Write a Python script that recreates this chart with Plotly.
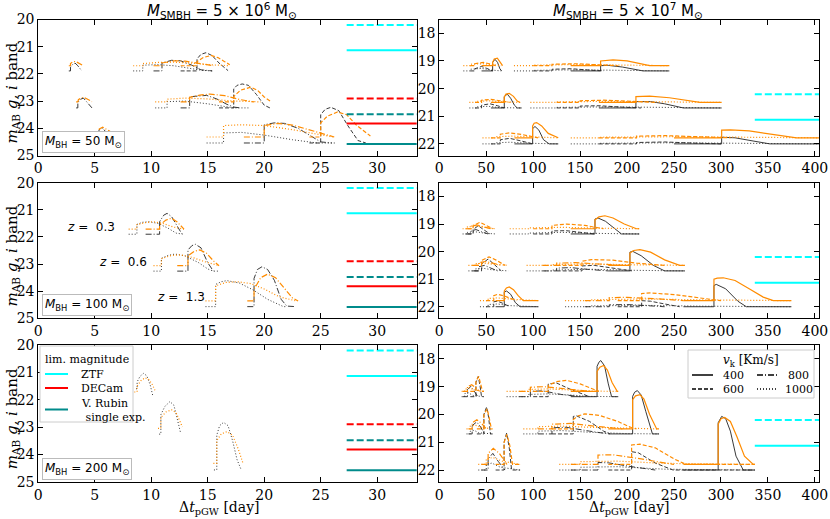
import plotly.graph_objects as go

W, H = 830, 519

# ------------------------------------------------------------------ data
VK_VALUES = [400, 600, 800, 1000]          # kick velocity [km/s]
MBH_VALUES = [50, 100, 200]                # BH mass per row [Msun]
SMBH_EXP = [6, 7]                          # log10 SMBH mass per column
Z_VALUES = [0.3, 0.6, 1.3]

LIM_NAMES = ["ZTF", "DECam", "V. Rubin<br> single exp."]
LIM_SOLID = [21.13, 23.82, 24.58]
LIM_DASHED = [20.20, 22.90, 23.48]
LIM_T_LEFT = [27.3, 34.0]
LIM_T_RIGHT = [336.0, 410.0]

LEFT_XTICKS = [0, 5, 10, 15, 20, 25, 30]
RIGHT_XTICKS = [0, 50, 100, 150, 200, 250, 300, 350, 400]
LEFT_YTICKS = [20, 21, 22, 23, 24, 25]
RIGHT_YTICKS = [18, 19, 20, 21, 22]

# each curve: (band, v_k, t [day], m_AB)
CURVES_L50 = [
    ("g", 800, [2.70, 2.85, 2.85, 3.05, 3.25, 3.50, 3.85], [21.89, 21.89, 21.75, 21.65, 21.60, 21.70, 21.89]),
    ("i", 800, [2.70, 2.85, 2.85, 3.05, 3.30, 3.60, 3.90], [21.70, 21.70, 21.62, 21.56, 21.54, 21.60, 21.68]),
    ("g", 1000, [8.40, 9.25, 9.25, 10.5, 12.0, 13.5, 14.5, 15.4], [21.89, 21.89, 21.68, 21.66, 21.70, 21.80, 21.87, 21.89]),
    ("i", 1000, [8.40, 9.25, 9.25, 10.5, 12.0, 13.5, 15.0, 16.9], [21.70, 21.70, 21.62, 21.58, 21.57, 21.60, 21.66, 21.70]),
    ("g", 800, [10.2, 10.95, 10.95, 11.8, 12.6, 13.6, 14.4, 15.4], [21.89, 21.89, 21.60, 21.50, 21.52, 21.68, 21.85, 21.89]),
    ("i", 800, [10.2, 10.95, 10.95, 12.0, 13.0, 14.2, 15.5], [21.70, 21.70, 21.60, 21.52, 21.53, 21.62, 21.70]),
    ("g", 600, [12.6, 14.05, 14.05, 14.4, 14.85, 15.4, 16.0, 16.8], [21.89, 21.89, 21.45, 21.28, 21.22, 21.33, 21.60, 21.88]),
    ("i", 600, [12.6, 14.05, 14.05, 14.6, 15.3, 15.9, 16.5, 16.95], [21.70, 21.70, 21.55, 21.40, 21.32, 21.40, 21.55, 21.66]),
    ("g", 800, [3.35, 3.50, 3.50, 3.75, 4.00, 4.35, 4.75], [23.25, 23.25, 23.05, 22.93, 22.89, 23.05, 23.25]),
    ("i", 800, [3.35, 3.50, 3.55, 3.80, 4.05, 4.40, 4.75], [23.03, 23.03, 22.95, 22.88, 22.86, 22.93, 23.02]),
    ("g", 1000, [10.35, 11.4, 11.4, 13.0, 15.0, 16.5, 17.3, 18.6], [23.25, 23.25, 23.02, 23.00, 23.10, 23.20, 23.25, 23.25]),
    ("i", 1000, [10.35, 11.4, 11.4, 13.0, 15.0, 17.0, 19.7], [23.03, 23.03, 22.93, 22.89, 22.92, 22.99, 23.03]),
    ("g", 800, [12.6, 13.4, 13.4, 14.2, 14.9, 15.8, 16.7, 17.3, 17.9], [23.25, 23.25, 22.84, 22.80, 22.79, 22.92, 23.12, 23.22, 23.25]),
    ("i", 800, [12.6, 13.4, 13.4, 14.3, 15.2, 16.5, 17.8, 19.1], [23.03, 23.03, 22.86, 22.78, 22.74, 22.80, 22.94, 23.03]),
    ("g", 600, [16.0, 17.3, 17.3, 17.6, 18.05, 18.6, 19.3, 20.0, 20.5], [23.25, 23.25, 22.55, 22.42, 22.37, 22.42, 22.75, 23.15, 23.25]),
    ("i", 600, [16.0, 17.3, 17.3, 17.9, 18.8, 19.4, 20.0, 20.6], [23.03, 23.03, 22.83, 22.60, 22.49, 22.60, 22.85, 23.02]),
    ("g", 800, [5.00, 5.20, 5.20, 5.45, 5.70, 6.10, 6.55], [24.54, 24.54, 24.20, 24.03, 23.99, 24.20, 24.54]),
    ("i", 800, [4.90, 5.20, 5.20, 5.40, 5.70, 6.30, 6.95], [24.32, 24.32, 24.20, 24.02, 23.96, 24.10, 24.32]),
    ("g", 1000, [14.9, 16.4, 16.4, 18.0, 20.0, 22.5, 24.7, 26.3], [24.54, 24.54, 24.17, 24.15, 24.25, 24.42, 24.54, 24.54]),
    ("i", 1000, [14.9, 16.4, 16.4, 18.0, 20.0, 22.5, 24.5, 26.2], [24.32, 24.32, 23.90, 23.87, 23.90, 24.05, 24.20, 24.32]),
    ("g", 800, [18.2, 20.0, 20.0, 20.9, 21.8, 23.0, 24.2, 25.0, 26.0], [24.54, 24.54, 23.87, 23.80, 23.82, 24.00, 24.30, 24.50, 24.54]),
    ("i", 800, [18.2, 20.0, 20.0, 21.2, 22.5, 24.0, 25.3, 26.2], [24.32, 24.32, 23.90, 23.82, 23.88, 24.05, 24.22, 24.32]),
    ("g", 600, [24.0, 25.0, 25.0, 25.4, 25.9, 26.6, 27.4, 28.3, 29.0], [24.54, 24.54, 23.50, 23.30, 23.23, 23.35, 23.90, 24.45, 24.54]),
    ("i", 600, [24.0, 25.0, 25.0, 25.6, 26.5, 27.3, 28.2, 29.4], [24.32, 24.32, 23.80, 23.55, 23.40, 23.50, 23.90, 24.28]),
]

CURVES_L100 = [
    ("g", 1000, [8.0, 8.73, 8.73, 9.2, 9.8, 10.6, 11.5, 12.2, 12.9], [21.90, 21.90, 21.54, 21.46, 21.44, 21.50, 21.68, 21.86, 21.90]),
    ("i", 1000, [8.0, 8.73, 8.73, 9.5, 10.2, 11.0, 12.0, 12.9], [21.71, 21.71, 21.55, 21.47, 21.44, 21.50, 21.64, 21.71]),
    ("g", 800, [9.5, 10.74, 10.74, 11.1, 11.4, 11.8, 12.3, 12.7], [21.90, 21.90, 21.44, 21.20, 21.13, 21.25, 21.60, 21.88]),
    ("i", 800, [9.5, 10.74, 10.74, 11.3, 11.8, 12.3, 12.9], [21.71, 21.71, 21.56, 21.38, 21.31, 21.45, 21.71]),
    ("g", 1000, [10.2, 10.9, 10.9, 11.5, 12.1, 13.0, 14.2, 15.0, 15.5, 16.0], [23.26, 23.26, 22.79, 22.68, 22.63, 22.70, 22.95, 23.18, 23.26, 23.26]),
    ("i", 1000, [10.2, 10.9, 10.9, 11.8, 12.6, 13.6, 14.8, 16.0], [23.06, 23.06, 22.80, 22.68, 22.66, 22.75, 22.92, 23.06]),
    ("g", 800, [12.3, 13.25, 13.25, 13.6, 13.9, 14.4, 15.0, 15.5], [23.26, 23.26, 22.48, 22.32, 22.27, 22.40, 22.95, 23.26]),
    ("i", 800, [12.3, 13.25, 13.25, 13.8, 14.3, 14.9, 15.5, 16.0], [23.06, 23.06, 22.70, 22.53, 22.48, 22.60, 22.88, 23.06]),
    ("g", 1000, [14.8, 15.7, 15.7, 16.2, 16.7, 17.8, 19.0, 20.3, 21.7, 22.0], [24.57, 24.57, 23.75, 23.65, 23.61, 23.70, 23.95, 24.30, 24.57, 24.57]),
    ("i", 1000, [14.8, 15.7, 15.7, 16.6, 17.6, 18.8, 20.0, 21.3, 22.8], [24.36, 24.36, 23.80, 23.68, 23.65, 23.72, 23.92, 24.20, 24.36]),
    ("g", 800, [18.5, 19.1, 19.1, 19.4, 19.8, 20.3, 20.9, 21.5, 22.0, 22.8], [24.57, 24.57, 23.53, 23.20, 23.10, 23.20, 23.60, 24.30, 24.55, 24.57]),
    ("i", 800, [18.5, 19.1, 19.1, 19.7, 20.3, 21.0, 21.8, 22.5, 23.0], [24.36, 24.36, 23.93, 23.50, 23.37, 23.50, 23.90, 24.25, 24.36]),
]

CURVES_L200 = [
    ("g", 1000, [8.65, 8.75, 8.75, 9.0, 9.3, 9.6, 9.9, 10.15], [21.60, 21.60, 21.35, 21.15, 21.04, 21.12, 21.45, 21.88]),
    ("i", 1000, [8.5, 8.75, 8.75, 9.1, 9.45, 9.8, 10.1, 10.35], [21.72, 21.72, 21.50, 21.30, 21.20, 21.27, 21.45, 21.68]),
    ("g", 1000, [10.7, 10.85, 10.85, 11.2, 11.65, 12.0, 12.3, 12.6], [23.26, 23.26, 22.55, 22.25, 22.07, 22.20, 22.70, 23.22]),
    ("i", 1000, [10.6, 10.85, 10.85, 11.3, 11.8, 12.2, 12.5, 12.75], [23.05, 23.05, 22.65, 22.45, 22.37, 22.48, 22.75, 23.00]),
    ("g", 1000, [15.55, 15.8, 15.8, 16.05, 16.4, 16.8, 17.2, 17.6, 17.95], [24.57, 24.57, 23.30, 22.95, 22.83, 22.95, 23.50, 24.20, 24.55]),
    ("i", 1000, [15.5, 15.8, 15.8, 16.2, 16.7, 17.2, 17.7, 18.1], [24.33, 24.33, 23.50, 23.25, 23.17, 23.30, 23.80, 24.30]),
]

CURVES_R50 = [
    ("g", 1000, [25.6, 33, 33, 45, 56, 66], [19.36, 19.36, 19.30, 19.27, 19.33, 19.36]),
    ("i", 1000, [25.6, 33, 33, 47, 58, 66], [19.17, 19.17, 19.12, 19.10, 19.14, 19.17]),
    ("g", 600, [33, 38, 38, 45, 50, 56.8], [19.36, 19.36, 19.28, 19.20, 19.26, 19.36]),
    ("i", 600, [33, 38, 38, 47, 53, 60], [19.17, 19.17, 19.10, 19.05, 19.10, 19.17]),
    ("g", 400, [45, 56.8, 56.8, 59.3, 62, 64.5, 66.4], [19.36, 19.36, 19.05, 18.94, 19.05, 19.28, 19.36]),
    ("i", 400, [45, 56.8, 56.8, 58.5, 61.8, 64.5, 67.4], [19.17, 19.17, 19.05, 18.93, 18.90, 19.02, 19.17]),
    ("g", 1000, [79.5, 100, 100, 150, 200, 245], [19.36, 19.36, 19.34, 19.32, 19.35, 19.36]),
    ("i", 1000, [79.5, 100, 100, 150, 200, 245], [19.17, 19.17, 19.15, 19.13, 19.15, 19.17]),
    ("g", 600, [100, 120, 120, 140, 160, 175], [19.36, 19.36, 19.30, 19.28, 19.33, 19.36]),
    ("i", 600, [100, 120, 120, 145, 170, 190], [19.17, 19.17, 19.12, 19.10, 19.14, 19.17]),
    ("g", 400, [140, 171.8, 171.8, 180, 195, 210, 217, 245], [19.36, 19.36, 19.17, 19.16, 19.22, 19.32, 19.36, 19.36]),
    ("i", 400, [140, 171.8, 171.8, 185, 200, 215, 224, 245], [19.17, 19.17, 19.00, 18.96, 19.00, 19.10, 19.17, 19.17]),
    ("g", 1000, [32, 40, 40, 52, 65, 87.7], [20.70, 20.70, 20.66, 20.64, 20.69, 20.70]),
    ("i", 1000, [32, 40, 40, 54, 68, 87.7], [20.50, 20.50, 20.46, 20.44, 20.48, 20.50]),
    ("g", 600, [38, 45, 45, 54, 62, 69.2], [20.70, 20.70, 20.60, 20.55, 20.62, 20.70]),
    ("i", 600, [38, 45, 45, 55, 65, 75], [20.50, 20.50, 20.42, 20.39, 20.44, 20.50]),
    ("g", 400, [55, 69.2, 69.2, 72.4, 76, 80, 83, 87.7], [20.70, 20.70, 20.29, 20.20, 20.35, 20.60, 20.70, 20.70]),
    ("i", 400, [55, 69.2, 69.2, 71, 74.5, 79, 83, 86], [20.50, 20.50, 20.30, 20.20, 20.17, 20.28, 20.45, 20.50]),
    ("g", 1000, [97, 125, 125, 180, 240, 300.7], [20.70, 20.70, 20.68, 20.66, 20.69, 20.70]),
    ("i", 1000, [97, 125, 125, 180, 240, 300.7], [20.50, 20.50, 20.48, 20.46, 20.48, 20.50]),
    ("g", 600, [125, 150, 150, 170, 195, 215], [20.70, 20.70, 20.63, 20.62, 20.67, 20.70]),
    ("i", 600, [125, 150, 150, 175, 205, 230], [20.50, 20.50, 20.44, 20.42, 20.46, 20.50]),
    ("g", 400, [170, 209.4, 209.4, 225, 240, 255, 260, 300.7], [20.70, 20.70, 20.47, 20.47, 20.55, 20.66, 20.70, 20.70]),
    ("i", 400, [170, 209.4, 209.4, 224, 245, 265, 277.6, 300.7], [20.50, 20.50, 20.29, 20.27, 20.33, 20.44, 20.50, 20.50]),
    ("g", 1000, [46, 60, 60, 75, 100, 126.7], [22.00, 22.00, 21.96, 21.94, 21.98, 22.00]),
    ("i", 1000, [46, 60, 60, 78, 100, 126.7], [21.78, 21.78, 21.74, 21.72, 21.75, 21.78]),
    ("g", 600, [55, 65, 65, 75, 88, 99.4], [22.00, 22.00, 21.85, 21.80, 21.90, 22.00]),
    ("i", 600, [55, 65, 65, 75, 88, 105], [21.78, 21.78, 21.65, 21.60, 21.66, 21.78]),
    ("g", 400, [80, 99.4, 99.4, 101.9, 106, 111, 117, 126.7], [22.00, 22.00, 21.45, 21.37, 21.50, 21.85, 22.00, 22.00]),
    ("i", 400, [80, 99.4, 99.4, 101, 103.7, 109, 116, 125, 126.7], [21.78, 21.78, 21.35, 21.25, 21.23, 21.35, 21.62, 21.78, 21.78]),
    ("g", 1000, [140, 170, 170, 250, 330, 405], [22.00, 22.00, 21.98, 21.96, 21.98, 22.00]),
    ("i", 1000, [140, 170, 170, 250, 330, 405], [21.78, 21.78, 21.76, 21.74, 21.76, 21.78]),
    ("g", 600, [170, 210, 210, 240, 270, 300], [22.00, 22.00, 21.95, 21.93, 21.97, 22.00]),
    ("i", 600, [170, 210, 210, 240, 275, 310], [21.78, 21.78, 21.72, 21.70, 21.74, 21.78]),
    ("g", 400, [250, 300.7, 300.7, 315, 335, 352, 405], [22.00, 22.00, 21.76, 21.78, 21.90, 22.00, 22.00]),
    ("i", 400, [250, 300.7, 300.7, 310, 330, 355, 380.5, 405], [21.78, 21.78, 21.50, 21.49, 21.53, 21.66, 21.78, 21.78]),
]

CURVES_R100 = [
    ("g", 1000, [24.8, 30, 30, 38, 48, 60], [19.36, 19.36, 19.30, 19.28, 19.33, 19.36]),
    ("i", 1000, [24.8, 30, 30, 40, 50, 60], [19.17, 19.17, 19.10, 19.08, 19.13, 19.17]),
    ("g", 800, [28, 34, 34, 39, 45, 52], [19.36, 19.36, 19.25, 19.20, 19.28, 19.36]),
    ("i", 800, [28, 34, 34, 40, 47, 55], [19.17, 19.17, 19.08, 19.03, 19.10, 19.17]),
    ("g", 600, [30, 36, 36, 41.5, 47, 54], [19.36, 19.36, 19.20, 19.06, 19.20, 19.36]),
    ("i", 600, [30, 36, 36, 43.3, 50, 57], [19.17, 19.17, 19.05, 18.94, 19.05, 19.17]),
    ("g", 1000, [75, 95, 95, 130, 170, 213], [19.36, 19.36, 19.33, 19.30, 19.34, 19.36]),
    ("i", 1000, [75, 95, 95, 130, 170, 213], [19.17, 19.17, 19.14, 19.12, 19.15, 19.17]),
    ("g", 600, [100, 120, 120, 135, 150, 165], [19.36, 19.36, 19.25, 19.24, 19.30, 19.36]),
    ("i", 600, [100, 120, 120, 135.6, 155, 175], [19.17, 19.17, 19.05, 19.00, 19.05, 19.17]),
    ("g", 400, [140, 165.8, 165.8, 169, 177, 186, 194, 213], [19.36, 19.36, 18.82, 18.78, 18.90, 19.15, 19.36, 19.36]),
    ("i", 400, [140, 165.8, 165.8, 170, 176.4, 185, 197, 210, 213], [19.17, 19.17, 18.85, 18.74, 18.70, 18.78, 19.00, 19.17, 19.17]),
    ("g", 1000, [31, 38, 38, 46, 56, 73.5], [20.70, 20.70, 20.63, 20.60, 20.66, 20.70]),
    ("i", 1000, [31, 38, 38, 48, 58, 73.5], [20.50, 20.50, 20.44, 20.42, 20.46, 20.50]),
    ("g", 800, [35, 42, 42, 48, 55, 62], [20.70, 20.70, 20.55, 20.50, 20.60, 20.70]),
    ("i", 800, [35, 42, 42, 49, 57, 66], [20.50, 20.50, 20.40, 20.36, 20.42, 20.50]),
    ("g", 600, [38, 45, 45, 52, 58, 66], [20.70, 20.70, 20.45, 20.27, 20.45, 20.70]),
    ("i", 600, [38, 45, 45, 53, 60, 70], [20.50, 20.50, 20.32, 20.19, 20.30, 20.50]),
    ("g", 1000, [93, 120, 120, 160, 210, 261.6], [20.70, 20.70, 20.67, 20.64, 20.68, 20.70]),
    ("i", 1000, [93, 120, 120, 160, 210, 261.6], [20.50, 20.50, 20.47, 20.45, 20.48, 20.50]),
    ("g", 800, [110, 125, 125, 140, 160, 180], [20.70, 20.70, 20.60, 20.58, 20.65, 20.70]),
    ("i", 800, [110, 125, 125, 145, 170, 195], [20.50, 20.50, 20.42, 20.40, 20.45, 20.50]),
    ("g", 600, [125, 152, 152, 165, 185, 205], [20.70, 20.70, 20.52, 20.50, 20.60, 20.70]),
    ("i", 600, [125, 152, 152, 162, 185, 210, 240], [20.50, 20.50, 20.35, 20.29, 20.31, 20.42, 20.50]),
    ("g", 400, [180, 203, 203, 206, 215, 228, 240, 261.6], [20.70, 20.70, 20.02, 19.99, 20.15, 20.50, 20.70, 20.70]),
    ("i", 400, [180, 203, 203, 207, 213.7, 225, 240, 256, 261.6], [20.50, 20.50, 20.05, 19.96, 19.93, 20.02, 20.30, 20.50, 20.50]),
    ("g", 1000, [43.3, 52, 52, 62, 75, 105.4], [22.00, 22.00, 21.92, 21.90, 21.96, 22.00]),
    ("i", 1000, [43.3, 52, 52, 62, 78, 105.4], [21.78, 21.78, 21.70, 21.68, 21.73, 21.78]),
    ("g", 600, [50, 58, 58, 62, 68, 75], [22.00, 22.00, 21.82, 21.80, 21.88, 22.00]),
    ("i", 600, [50, 58, 58, 62, 70, 82], [21.78, 21.78, 21.60, 21.55, 21.62, 21.78]),
    ("g", 400, [60, 69.2, 69.2, 71.7, 76, 81, 86, 105.4], [22.00, 22.00, 21.47, 21.43, 21.55, 21.85, 22.00, 22.00]),
    ("i", 400, [60, 69.2, 69.2, 71.5, 74.5, 79, 84, 89.5, 105.4], [21.78, 21.78, 21.43, 21.32, 21.28, 21.38, 21.60, 21.78, 21.78]),
    ("g", 1000, [134, 160, 160, 220, 280, 375], [22.00, 22.00, 21.97, 21.95, 21.98, 22.00]),
    ("i", 1000, [134, 160, 160, 220, 280, 375], [21.78, 21.78, 21.75, 21.72, 21.75, 21.78]),
    ("g", 800, [155, 181, 181, 200, 220, 240], [22.00, 22.00, 21.93, 21.92, 21.96, 22.00]),
    ("i", 800, [155, 181, 181, 200, 230, 260], [21.78, 21.78, 21.67, 21.66, 21.71, 21.78]),
    ("g", 600, [190, 215.5, 215.5, 225, 240, 256], [22.00, 22.00, 21.78, 21.80, 21.90, 22.00]),
    ("i", 600, [190, 215.5, 215.5, 225, 250, 275, 300], [21.78, 21.78, 21.52, 21.50, 21.56, 21.68, 21.78]),
    ("g", 400, [260, 292.5, 292.5, 295, 305, 318, 327, 375], [22.00, 22.00, 21.23, 21.19, 21.35, 21.80, 22.00, 22.00]),
    ("i", 400, [260, 292.5, 292.5, 296, 302.4, 315, 330, 345, 355.7, 375], [21.78, 21.78, 21.00, 20.96, 20.95, 21.05, 21.35, 21.65, 21.78, 21.78]),
]

CURVES_R200 = [
    ("g", 1000, [23.8, 27, 27, 31, 36, 47.6], [19.36, 19.36, 19.25, 19.22, 19.32, 19.36]),
    ("i", 1000, [23.8, 27, 27, 32, 38, 47.6], [19.17, 19.17, 19.10, 19.05, 19.12, 19.17]),
    ("g", 800, [25, 30, 30, 33.7, 37, 41], [19.36, 19.36, 19.10, 18.99, 19.15, 19.36]),
    ("i", 800, [25, 30, 30, 34.5, 38, 43], [19.17, 19.17, 19.00, 18.93, 19.02, 19.17]),
    ("g", 600, [33, 39, 39, 41.5, 43.5, 45, 47.6], [19.36, 19.36, 18.85, 18.63, 19.00, 19.36, 19.36]),
    ("i", 600, [33, 39, 39, 42, 44, 46, 47.6], [19.17, 19.17, 18.80, 18.63, 18.90, 19.17, 19.17]),
    ("g", 1000, [71.7, 95, 95, 115, 140, 160, 190.6], [19.36, 19.36, 19.28, 19.26, 19.30, 19.35, 19.36]),
    ("i", 1000, [71.7, 95, 95, 115, 140, 165, 190.6], [19.17, 19.17, 19.10, 19.08, 19.12, 19.16, 19.17]),
    ("g", 800, [85, 97, 97, 110, 130, 150], [19.36, 19.36, 19.17, 19.15, 19.28, 19.36]),
    ("i", 800, [85, 97, 97, 112, 135, 160], [19.17, 19.17, 19.02, 19.00, 19.08, 19.17]),
    ("g", 600, [100, 116, 116, 125, 140, 160], [19.36, 19.36, 18.90, 18.87, 19.10, 19.36]),
    ("i", 600, [100, 116, 116, 125, 135.6, 150, 170], [19.17, 19.17, 18.95, 18.82, 18.77, 18.90, 19.17]),
    ("g", 400, [140, 168, 168, 170, 172, 176, 180, 183.5, 190.6], [19.36, 19.36, 18.27, 18.12, 18.06, 18.25, 18.90, 19.36, 19.36]),
    ("i", 400, [140, 168, 168, 171, 175, 179, 184, 189.5, 190.6], [19.17, 19.17, 18.45, 18.30, 18.24, 18.40, 18.85, 19.17, 19.17]),
    ("g", 1000, [29, 33, 33, 37, 42, 56.8], [20.70, 20.70, 20.60, 20.57, 20.66, 20.70]),
    ("i", 1000, [29, 33, 33, 38, 44, 56.8], [20.52, 20.52, 20.42, 20.38, 20.46, 20.52]),
    ("g", 800, [31, 35, 35, 39.8, 44, 48], [20.70, 20.70, 20.40, 20.27, 20.45, 20.70]),
    ("i", 800, [31, 35, 35, 40, 45, 50], [20.52, 20.52, 20.30, 20.19, 20.32, 20.52]),
    ("g", 600, [40, 47.5, 47.5, 50.4, 52.5, 54.5, 56.8], [20.70, 20.70, 20.00, 19.73, 20.10, 20.70, 20.70]),
    ("i", 600, [40, 47.5, 47.5, 51, 53, 55.5, 56.8], [20.52, 20.52, 20.00, 19.80, 20.10, 20.52, 20.52]),
    ("g", 1000, [89.5, 105, 105, 130, 160, 200, 234], [20.70, 20.70, 20.60, 20.58, 20.64, 20.69, 20.70]),
    ("i", 1000, [89.5, 105, 105, 130, 160, 200, 234], [20.52, 20.52, 20.44, 20.42, 20.46, 20.50, 20.52]),
    ("g", 800, [105, 120, 120, 135, 160, 180], [20.70, 20.70, 20.48, 20.46, 20.60, 20.70]),
    ("i", 800, [105, 120, 120, 140, 165, 195], [20.52, 20.52, 20.35, 20.32, 20.42, 20.52]),
    ("g", 600, [120, 142.7, 142.7, 146, 160, 175, 181.8], [20.70, 20.70, 20.07, 20.05, 20.25, 20.60, 20.70]),
    ("i", 600, [120, 142.7, 142.7, 148, 155, 170, 190, 205, 210], [20.52, 20.52, 20.18, 20.05, 19.98, 20.03, 20.25, 20.48, 20.52]),
    ("g", 400, [180, 205.9, 205.9, 208, 210.9, 215, 220, 227, 234], [20.70, 20.70, 19.35, 19.20, 19.14, 19.30, 19.90, 20.70, 20.70]),
    ("i", 400, [180, 205.9, 205.9, 209, 213.7, 218, 224, 231.5, 234], [20.52, 20.52, 19.47, 19.33, 19.29, 19.45, 20.00, 20.52, 20.52]),
    ("g", 1000, [41.5, 50, 50, 56, 65, 86], [22.00, 22.00, 21.80, 21.75, 21.90, 22.00]),
    ("i", 1000, [41.5, 50, 50, 57, 67, 86], [21.80, 21.80, 21.60, 21.55, 21.68, 21.80]),
    ("g", 800, [45, 52, 52, 57, 63, 70], [22.00, 22.00, 21.60, 21.40, 21.70, 22.00]),
    ("i", 800, [45, 52, 52, 57.5, 64, 72], [21.80, 21.80, 21.40, 21.22, 21.40, 21.80]),
    ("g", 600, [60, 69, 69, 71.7, 74.5, 77, 86], [22.00, 22.00, 21.00, 20.67, 21.20, 22.00, 22.00]),
    ("i", 600, [60, 69, 69, 72, 75, 78, 86], [21.80, 21.80, 21.00, 20.72, 21.10, 21.80, 21.80]),
    ("g", 1000, [127.8, 150, 150, 190, 240, 336], [22.00, 22.00, 21.90, 21.88, 21.97, 22.00]),
    ("i", 1000, [127.8, 150, 150, 190, 240, 336], [21.80, 21.80, 21.70, 21.68, 21.76, 21.80]),
    ("g", 800, [140, 169, 169, 180, 205, 230], [22.00, 22.00, 21.73, 21.74, 21.88, 22.00]),
    ("i", 800, [140, 169, 169, 185, 215, 250], [21.80, 21.80, 21.46, 21.45, 21.60, 21.80]),
    ("g", 600, [180, 204.8, 204.8, 212, 230, 249, 336], [22.00, 22.00, 21.34, 21.38, 21.75, 22.00, 22.00]),
    ("i", 600, [180, 204.8, 204.8, 213.7, 230, 250, 263, 336], [21.80, 21.80, 21.10, 21.07, 21.20, 21.60, 21.80, 21.80]),
    ("g", 400, [260, 297, 297, 300.7, 305, 310, 316, 323.7, 336], [22.00, 22.00, 20.30, 20.07, 20.15, 20.60, 21.50, 22.00, 22.00]),
    ("i", 400, [260, 297, 297, 300, 304, 310, 317, 325, 334.4, 336], [21.80, 21.80, 20.35, 20.15, 20.11, 20.25, 20.80, 21.50, 21.80, 21.80]),
]

# ------------------------------------------------------------------ styling
VK_DASH = {400: "solid", 600: "4px,2px", 800: "6px,2px,1px,2px", 1000: "1px,2px"}
BAND_COLOR = {"g": "#222222", "i": "darkorange"}
BAND_WIDTH = {"g": 0.9, "i": 1.2}
LIM_COLORS = ["cyan", "red", "darkcyan"]

SERIF = "DejaVu Serif"
SANS = "DejaVu Sans"

# geometry (pixels)
LEFT_X = (38.3, 416.7)
RIGHT_X = (439.3, 819.3)
ROWS = [(19.5, 155.5), (182.7, 318.3), (345.0, 481.7)]


def px(x):
    return x / W


def py(y):
    return 1 - y / H


def note(x, y, text, size=13, family=SERIF, xanchor="center", yanchor="middle", **kw):
    d = dict(x=px(x), y=py(y), xref="paper", yref="paper", showarrow=False,
             xanchor=xanchor, yanchor=yanchor, text=text,
             font=dict(family=family, size=size, color="black"))
    d.update(kw)
    return d


fig = go.Figure()

left_curves = [CURVES_L50, CURVES_L100, CURVES_L200]
right_curves = [CURVES_R50, CURVES_R100, CURVES_R200]

layout_axes = {}
ax_common = dict(
    showline=True, linecolor="black", linewidth=1, mirror="allticks",
    ticks="inside", ticklen=5, tickwidth=1, tickcolor="black",
    showgrid=False, zeroline=False, automargin=False,
    tickfont=dict(family=SERIF, size=14, color="black"),
)

for r in range(3):
    for c in range(2):
        idx = r * 2 + c + 1
        xa = "x" if idx == 1 else f"x{idx}"
        ya = "y" if idx == 1 else f"y{idx}"
        left = c == 0
        curves = left_curves[r] if left else right_curves[r]
        lim_t = LIM_T_LEFT if left else LIM_T_RIGHT
        for band in ["g", "i"]:
            for (b, vk, t, m) in curves:
                if b != band:
                    continue
                fig.add_trace(go.Scatter(
                    x=t, y=m, xaxis=xa, yaxis=ya, mode="lines",
                    line=dict(color=BAND_COLOR[b], width=BAND_WIDTH[b], dash=VK_DASH[vk]),
                    showlegend=False, hoverinfo="skip"))
        for k in range(3):
            fig.add_trace(go.Scatter(
                x=lim_t, y=[LIM_DASHED[k]] * 2, xaxis=xa, yaxis=ya, mode="lines",
                line=dict(color=LIM_COLORS[k], width=2, dash="7px,3px"),
                showlegend=False, hoverinfo="skip"))
            fig.add_trace(go.Scatter(
                x=lim_t, y=[LIM_SOLID[k]] * 2, xaxis=xa, yaxis=ya, mode="lines",
                line=dict(color=LIM_COLORS[k], width=2),
                showlegend=False, hoverinfo="skip"))

        xd = LEFT_X if left else RIGHT_X
        top, bot = ROWS[r]
        xkey = "xaxis" if idx == 1 else f"xaxis{idx}"
        ykey = "yaxis" if idx == 1 else f"yaxis{idx}"
        layout_axes[xkey] = dict(
            ax_common, domain=[px(xd[0]), px(xd[1])], anchor=ya,
            range=[0, 33.5] if left else [0, 404.7],
            tickvals=LEFT_XTICKS if left else RIGHT_XTICKS)
        layout_axes[ykey] = dict(
            ax_common, domain=[py(bot), py(top)], anchor=xa,
            range=[25, 20] if left else [22.42, 17.5],
            tickvals=LEFT_YTICKS if left else RIGHT_YTICKS)

annotations = []
shapes = []

# column titles
for cx, e in [(222, SMBH_EXP[0]), (628, SMBH_EXP[1])]:
    annotations.append(note(cx, 11, f"<i>M</i><sub>SMBH</sub> = 5 × 10<sup>{e}</sup> M<sub>⊙</sub>",
                            size=15, family=SANS))

# y titles and M_BH boxes
for r in range(3):
    top, bot = ROWS[r]
    annotations.append(note(12, (top + bot) / 2 + 6, "<i>m</i><sub>AB</sub> <i>g, i</i> band",
                            size=15, textangle=-90))
    annotations.append(note(42, bot - 2, f"<i>M</i><sub>BH</sub> = {MBH_VALUES[r]} M<sub>⊙</sub>",
                            size=12, family=SANS, xanchor="left", yanchor="bottom",
                            bordercolor="#bbbbbb", borderwidth=1, borderpad=2, bgcolor="white"))

# x titles
for cx in [219, 629]:
    annotations.append(note(cx, 508, "Δ<i>t</i><sub>pGW</sub> [day]", size=14))

# redshift labels (middle-left panel)
for zval, (zx, zy) in zip(Z_VALUES, [(4.7, 21.62), (7.5, 22.93), (12.6, 24.21)]):
    annotations.append(dict(
        x=zx, y=zy, xref="x3", yref="y3", showarrow=False, xanchor="center", yanchor="middle",
        text=f"<i>z</i> =  {zval}", font=dict(family=SANS, size=12, color="black")))

# legend 1: limiting magnitudes
shapes.append(dict(type="rect", xref="paper", yref="paper", layer="above",
                   x0=px(40), x1=px(133), y0=py(422), y1=py(346),
                   line=dict(color="#cccccc", width=1), fillcolor="white"))
annotations.append(note(87, 359, "lim. magnitude", size=11))
for k, yy in enumerate([374, 388, 409.5]):
    shapes.append(dict(type="line", xref="paper", yref="paper", layer="above",
                       x0=px(45), x1=px(68), y0=py(yy), y1=py(yy),
                       line=dict(color=LIM_COLORS[k], width=2)))
for k, yy in enumerate([374, 388, 410]):
    annotations.append(note(79, yy, LIM_NAMES[k], size=11, xanchor="left", align="left"))

# legend 2: kick velocities
shapes.append(dict(type="rect", xref="paper", yref="paper", layer="above",
                   x0=px(688), x1=px(814), y0=py(398), y1=py(350),
                   line=dict(color="#cccccc", width=1), fillcolor="white"))
annotations.append(note(751, 361, "<i>v</i><sub>k</sub> [Km/s]", size=12))
leg_pos = {400: (692, 375, 721), 600: (692, 389, 721), 800: (757, 375, 786), 1000: (757, 389, 783)}
for vk in VK_VALUES:
    x0, yy, tx = leg_pos[vk]
    shapes.append(dict(type="line", xref="paper", yref="paper", layer="above",
                       x0=px(x0), x1=px(x0 + 21), y0=py(yy), y1=py(yy),
                       line=dict(color="black", width=1.5, dash=VK_DASH[vk])))
    annotations.append(note(tx, yy, str(vk), size=11, xanchor="left"))

fig.update_layout(
    width=W, height=H, margin=dict(l=0, r=0, t=0, b=0),
    plot_bgcolor="white", paper_bgcolor="white", showlegend=False,
    annotations=annotations, shapes=shapes, **layout_axes)

fig.write_html("out.html", config={"displayModeBar": False},
               post_script="document.body.style.margin='0';document.body.style.overflow='hidden';")
